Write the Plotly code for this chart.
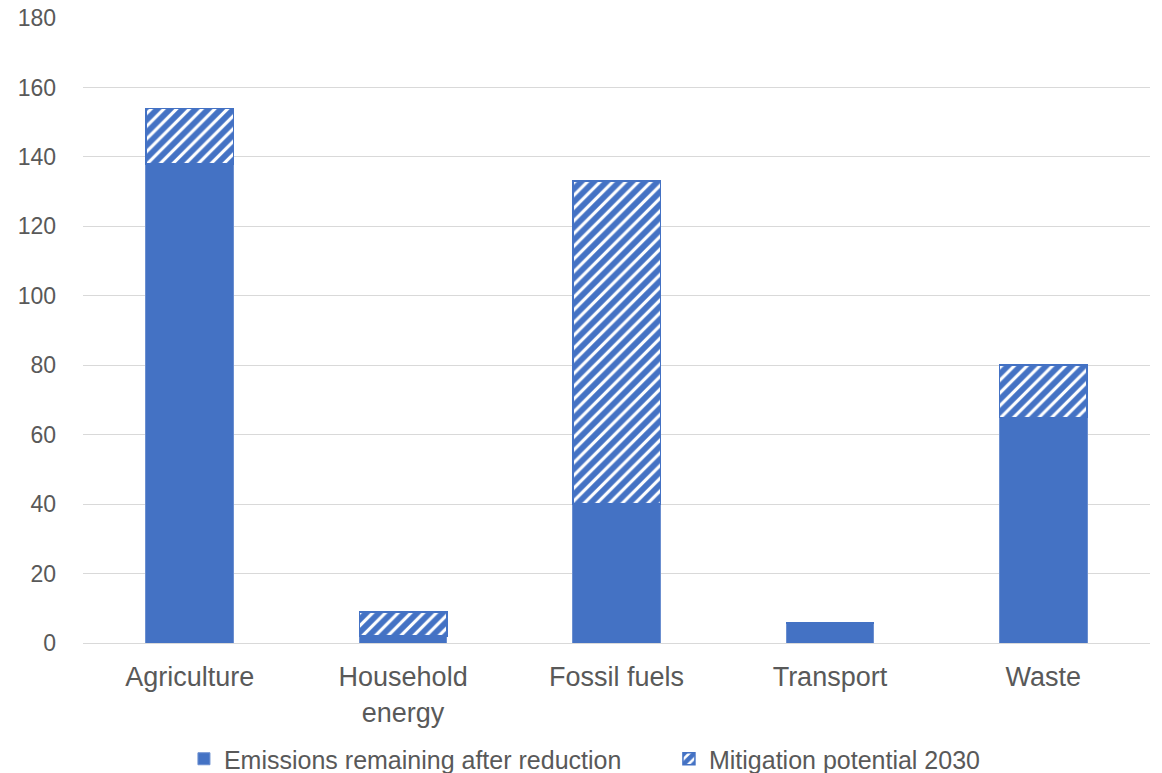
import plotly.graph_objects as go

categories = ["Agriculture", "Household<br>energy", "Fossil fuels", "Transport", "Waste"]
remaining = [138, 2, 40, 5.7, 65]
mitigation = [16, 7, 93, 0, 15]
y_ticks = [0, 20, 40, 60, 80, 100, 120, 140, 160, 180]

blue = "#4472C4"
fig = go.Figure()
fig.add_trace(go.Bar(
    x=categories, y=remaining, name="Emissions remaining after reduction",
    marker=dict(color=blue, line=dict(color="#6b8fd0", width=1)),
))
fig.add_trace(go.Bar(
    x=categories, y=mitigation, name="Mitigation potential 2030",
    marker=dict(color="white", line=dict(color=blue, width=1.5),
                pattern=dict(shape="/", fgcolor=blue, bgcolor="white", size=9, solidity=0.65,
                             fgopacity=1)),
))
fig.update_layout(
    barmode="stack", bargap=0.59,
    width=1162, height=773,
    margin=dict(l=83, r=12, t=18, b=130, autoexpand=False),
    plot_bgcolor="white", paper_bgcolor="white",
    font=dict(family="Liberation Sans, Arial", color="#595959", size=20),
    legend=dict(orientation="h", x=0.0946, xanchor="left", y=-0.1856, yanchor="middle",
                font=dict(family="Liberation Sans, Arial", size=25, color="#595959"),
                traceorder="normal", entrywidth=440, entrywidthmode="pixels", itemwidth=30),
    yaxis=dict(range=[0, 180], tickvals=y_ticks, showgrid=True, gridcolor="#d9d9d9",
               gridwidth=1, zeroline=False, tickfont=dict(size=23), ticks="",
               ticklabelstandoff=26, ticklabeloverflow="allow"),
    xaxis=dict(showline=True, linecolor="#d9d9d9", linewidth=1, tickfont=dict(size=27),
               ticks="", ticklabelstandoff=10),
)
fig.write_html("out.html", config={"displayModeBar": False},
               post_script="document.body.style.margin='0';document.body.style.padding='0';")
